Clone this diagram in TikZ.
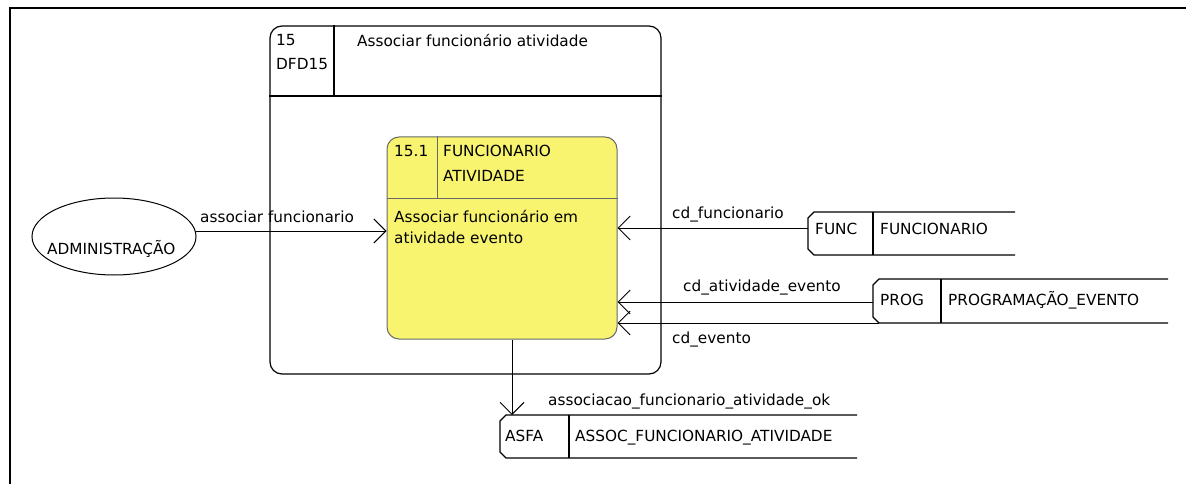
\documentclass[tikz,border=0pt]{standalone}
\usepackage{fontspec}
\setmainfont{DejaVu Sans}
\usetikzlibrary{arrows.meta,calc,shapes.geometric}
\definecolor{procfill}{RGB}{248,244,112}
\definecolor{procedge}{RGB}{105,105,105}
\begin{document}
\begin{tikzpicture}[x=1pt,y=-1pt,
  font=\fontsize{15.3}{18}\selectfont,
  txt/.style={inner sep=0pt, anchor=base west},
  flow/.style={line width=1pt, -{Straight Barb[length=12pt,width=24pt,line width=1pt]}},
  storeline/.style={line width=1.2pt},
  boxline/.style={line width=1.2pt}]
\useasboundingbox (0,0) rectangle (1186,484);

% page frame
\draw[line width=2pt] (10,484) -- (10,8) -- (1186,8);

% parent process 15
\node[draw, boxline, rounded corners=12pt, minimum width=391pt, minimum height=348pt, inner sep=0pt] (p15) at (465.5,200) {};
\draw[boxline] (p15.west |- 0,96) -- (p15.east |- 0,96);
\draw[boxline] (p15.north -| 334,0) -- (334,96);
\node[txt] (p15num) at (276,46) {15};
\node[txt] (p15id) at (276,70) {DFD15};
\node[txt] (p15name) at (357,47) {Associar funcionário atividade};

% process 15.1
\node[draw=procedge, fill=procfill, line width=1pt, rounded corners=12pt, minimum width=230pt, minimum height=202pt, inner sep=0pt] (p151) at (502,238) {};
\draw[procedge, line width=1pt] (p151.west |- 0,198) -- (p151.east |- 0,198);
\draw[procedge, line width=1pt] (p151.north -| 437,0) -- (437,198);
\node[txt] (p151num) at (394,157) {15.1};
\node[txt] (p151t1) at (443,157) {FUNCIONARIO};
\node[txt] (p151t2) at (443,182) {ATIVIDADE};
\node[txt] (p151d1) at (394,222) {Associar funcionário em};
\node[txt] (p151d2) at (394,243) {atividade evento};

% external entity
\node[draw, ellipse, line width=1pt, minimum width=164pt, minimum height=77pt, inner sep=0pt] (adm) at (114,236.5) {};
\node[txt] (admtxt) at (47,254) {ADMINISTRAÇÃO};
\coordinate (a1) at ($(adm.east |- 0,231)+(-1,0)$);
\draw[flow] (a1) -- (a1 -| p151.west);
\node[txt] (l1) at (200,222) {associar funcionario};

% data store FUNC
\draw[storeline] (1015,212) -- (814,212) -- (808,218) -- (808,249) -- (814,255) -- (1015,255);
\draw[storeline] (873,212) -- (873,255);
\node[txt] (funcid) at (815,234) {FUNC};
\node[txt] (funcname) at (880,234) {FUNCIONARIO};
\coordinate (func) at (808,228);
\draw[flow] (func) -- (func -| p151.east);
\node[txt] (l2) at (672,218) {cd\_funcionario};

% data store PROG
\draw[storeline] (1168,279) -- (879,279) -- (873,285) -- (873,317) -- (879,323) -- (1168,323);
\draw[storeline] (941,279) -- (941,323);
\node[txt] (progid) at (880,305) {PROG};
\node[txt] (progname) at (948,305) {PROGRAMAÇÃO\_EVENTO};
\coordinate (progA) at (873,302);
\coordinate (progB) at (879,323);
\draw[flow] (progA) -- (progA -| p151.east);
\draw[flow] (progB) -- (progB -| p151.east);
\node[txt] (l3) at (683,291) {cd\_atividade\_evento};
\node[txt] (l4) at (672,343) {cd\_evento};

% data store ASFA
\draw[storeline] (857,415) -- (506,415) -- (500,421) -- (500,452) -- (506,458) -- (857,458);
\draw[storeline] (569,415) -- (569,458);
\node[txt] (asfaid) at (505,441) {ASFA};
\node[txt] (asfaname) at (575,441) {ASSOC\_FUNCIONARIO\_ATIVIDADE};
\coordinate (asfa) at (512,415);
\draw[flow] (p151.south -| asfa) -- (asfa);
\node[txt] (l5) at (548,405) {associacao\_funcionario\_atividade\_ok};
\end{tikzpicture}
\end{document}
